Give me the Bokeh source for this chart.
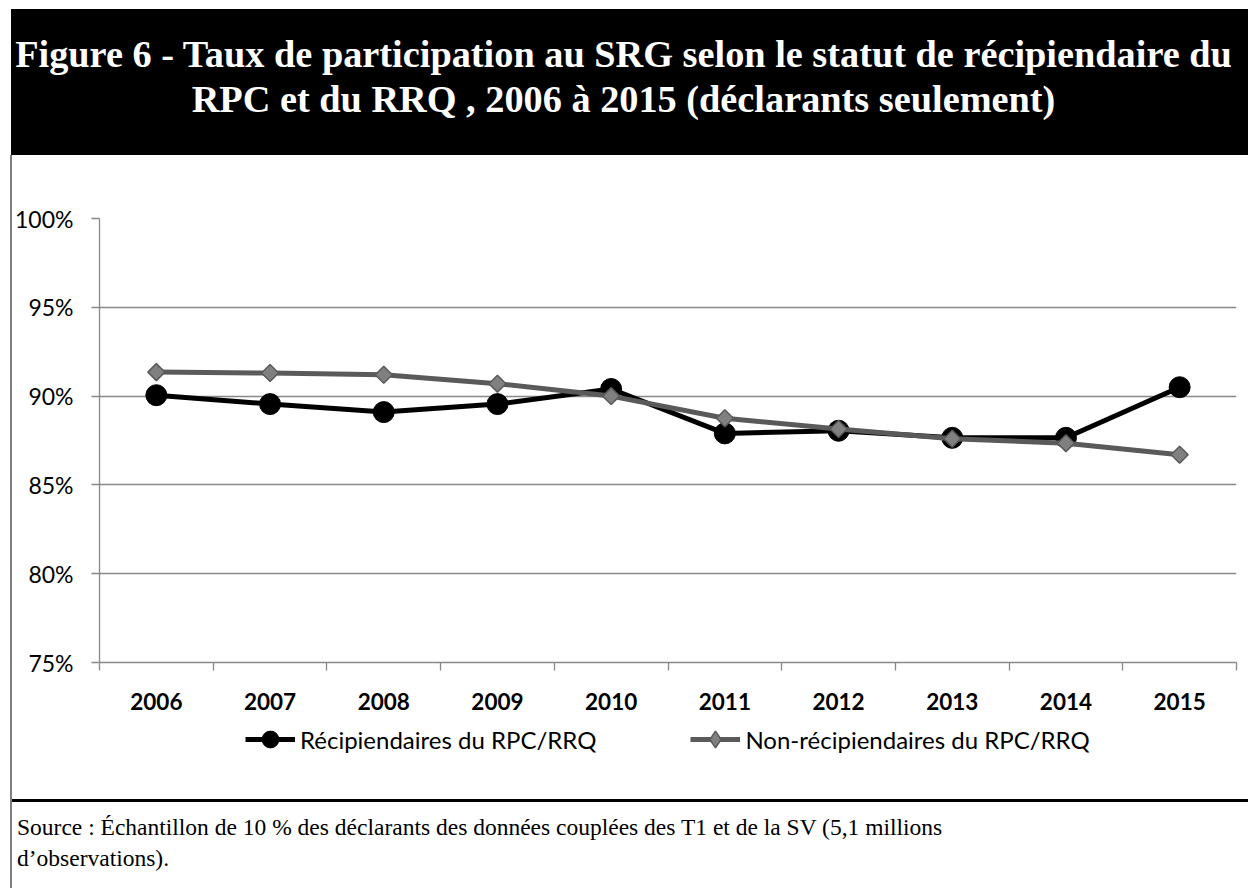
from bokeh.plotting import figure
from bokeh.models import (FixedTicker, PrintfTickFormatter, Legend, LegendItem,
                          Range1d, Div)
from bokeh.layouts import column, row
from bokeh.embed import file_html
from bokeh.resources import INLINE
from math import pi

# ---------------- data ----------------
years = [2006, 2007, 2008, 2009, 2010, 2011, 2012, 2013, 2014, 2015]
recipients = [90.05, 89.55, 89.1, 89.55, 90.4, 87.9, 88.05, 87.65, 87.65, 90.5]
non_recipients = [91.35, 91.3, 91.2, 90.7, 90.0, 88.75, 88.15, 87.6, 87.35, 86.7]
y_ticks = [75, 80, 85, 90, 95, 100]
series_names = ["Récipiendaires du RPC/RRQ", "Non-récipiendaires du RPC/RRQ"]
title_lines = [
    "Figure 6 - Taux de participation au SRG selon le statut de récipiendaire du",
    "RPC et du RRQ , 2006 à 2015 (déclarants seulement)",
]
source_lines = [
    "Source : Échantillon de 10 % des déclarants des données couplées des T1 et de la SV (5,1 millions",
    "d’observations).",
]

SANS = "Lato"
GRID = "#898989"
BLACK_LINE = "black"
GRAY_LINE = "#5a5a5a"
GRAY_FILL = "#808080"

INNER_W = 1236          # content right of the left border strip (x 12..1248)
ML, MR = 87, 12         # frame spans x 99..1236 on the page

# ---------------- banner ----------------
banner = Div(
    text=('<div style="width:1225px;padding-top:23px;text-align:center;white-space:nowrap;'
          'color:white;font-family:\'Liberation Serif\';font-weight:bold;'
          'font-size:38.3px;line-height:45px;">'
          + "<br>".join(title_lines) + "</div>"),
    width=1237, height=146, margin=(9, 0, 0, 11),
    styles={"background-color": "black", "overflow": "hidden"})

# ---------------- main chart ----------------
p = figure(width=INNER_W, height=567, x_range=Range1d(2005.5, 2015.5), y_range=Range1d(75, 100),
           output_backend="svg", toolbar_location=None,
           min_border_left=ML, min_border_right=MR, min_border_top=63, min_border_bottom=60,
           outline_line_color=None, background_fill_color="white", border_fill_color="white",
           margin=0)

p.line(years, recipients, line_color=BLACK_LINE, line_width=5)
p.scatter(years, recipients, marker="circle", size=21, fill_color="black", line_color="black")
p.line(years, non_recipients, line_color=GRAY_LINE, line_width=5)
p.scatter(years, non_recipients, marker="square", angle=pi / 4, size=12,
          fill_color=GRAY_FILL, line_color=GRAY_LINE, line_width=1.5)

xa = p.xaxis[0]
xa.ticker = FixedTicker(ticks=years, minor_ticks=[y - 0.5 for y in years] + [years[-1] + 0.5])
xa.major_tick_out = 0
xa.major_tick_in = 0
xa.minor_tick_out = 8
xa.minor_tick_in = 0
xa.minor_tick_line_color = GRID
xa.minor_tick_line_width = 1.3
xa.axis_line_color = GRID
xa.axis_line_width = 1.3
xa.major_label_text_font = SANS
xa.major_label_text_font_style = "bold"
xa.major_label_text_font_size = "22.5px"
xa.major_label_text_color = "black"
xa.major_label_standoff = 22

ya = p.yaxis[0]
ya.ticker = FixedTicker(ticks=y_ticks, minor_ticks=[])
ya.formatter = PrintfTickFormatter(format="%d%%")
ya.major_tick_out = 8
ya.major_tick_in = 0
ya.major_tick_line_color = GRID
ya.major_tick_line_width = 1.3
ya.axis_line_color = GRID
ya.axis_line_width = 1.3
ya.major_label_text_font = SANS
ya.major_label_text_font_size = "23px"
ya.major_label_text_color = "black"
ya.major_label_standoff = 18

p.xgrid.visible = False
p.ygrid.ticker = FixedTicker(ticks=y_ticks)
p.ygrid.grid_line_color = GRID
p.ygrid.grid_line_width = 1.3

# ---------------- legend strip ----------------
lg = figure(width=INNER_W, height=77, x_range=Range1d(2005.5, 2015.5), y_range=Range1d(0, 1),
            output_backend="svg", toolbar_location=None,
            x_axis_type=None, y_axis_type=None,
            min_border_left=ML, min_border_right=MR, min_border_top=0, min_border_bottom=0,
            outline_line_color=None, background_fill_color="white", border_fill_color="white",
            margin=0)
lg.grid.visible = False
# swatch renderers (their points lie outside this strip's range, only the legend shows)
k1l = lg.line(years, recipients, line_color=BLACK_LINE, line_width=5)
k1m = lg.scatter(years, recipients, marker="circle", fill_color="black", line_color="black")
k2l = lg.line(years, non_recipients, line_color=GRAY_LINE, line_width=5)
k2m = lg.scatter(years, non_recipients, marker="diamond", fill_color=GRAY_FILL,
                 line_color=GRAY_LINE, line_width=1.5)
legend = Legend(items=[LegendItem(label=series_names[0], renderers=[k1l, k1m]),
                       LegendItem(label=series_names[1], renderers=[k2l, k2m])],
                orientation="horizontal", location=(146, 39),
                glyph_width=50, glyph_height=42, label_standoff=5, spacing=94,
                label_text_font=SANS, label_text_font_size="24px",
                label_text_color="black", label_text_baseline="middle",
                border_line_color=None, background_fill_alpha=0,
                margin=0, padding=0)
lg.add_layout(legend, "center")

# ---------------- source ----------------
src = Div(
    text=('<div style="padding:10px 0 0 5px;white-space:nowrap;color:black;'
          'font-family:\'Liberation Serif\';font-size:23.5px;line-height:31px;">'
          + "<br>".join(source_lines) + "</div>"),
    width=INNER_W, height=89, margin=0,
    styles={"border-top": "3px solid black", "box-sizing": "border-box",
            "background-color": "white", "overflow": "hidden"})

# ---------------- left border strip ----------------
strip = Div(text="", width=2, height=733, margin=(0, 0, 0, 10),
            styles={"background-color": "#7f7f7f"})

layout = column(banner, row(strip, column(p, lg, src, margin=0), margin=0), margin=0)

open("out.html", "w").write(file_html(layout, INLINE))
